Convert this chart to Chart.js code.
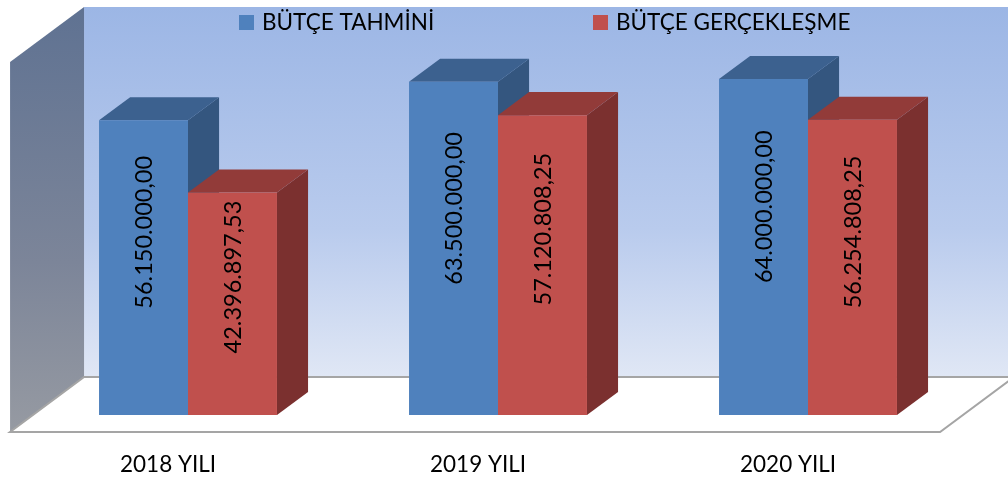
<!DOCTYPE html>
<html>
<head>
<meta charset="utf-8">
<script src="https://cdn.jsdelivr.net/npm/chart.js@4.4.1/dist/chart.umd.min.js"></script>
<style>
  html, body { margin: 0; padding: 0; background: #ffffff; overflow: hidden; }
  #wrap { width: 1008px; height: 479px; position: relative; }
  #c { display: block; }
</style>
</head>
<body>
<div id="wrap"><canvas id="c"></canvas></div>
<script>
const categories = ['2018 YILI', '2019 YILI', '2020 YILI'];
const seriesNames = ['BÜTÇE TAHMİNİ', 'BÜTÇE GERÇEKLEŞME'];
const butceTahmini = [56150000.00, 63500000.00, 64000000.00];
const butceGerceklesme = [42396897.53, 57120808.25, 56254808.25];
const yMax = 70500000;

const FONT = 'Lato, "Open Sans", sans-serif';
const FRONT = { blue: '#4f81bd', red: '#c0504d' };
const TOP = { blue: '#3c618f', red: '#923b39' };
const SIDE = { blue: '#34567f', red: '#7b302f' };

// 3D projection constants (full depth of the floor)
const DEPTH_X = 74, DEPTH_Y = -55;
const T_FRONT = 0.31, T_BACK = 0.73;

function proj(x, y, t) {
  return [x + (t - T_FRONT) * DEPTH_X, y + (t - T_FRONT) * DEPTH_Y];
}
function poly(ctx, pts, fill, stroke, lw) {
  ctx.beginPath();
  ctx.moveTo(pts[0][0], pts[0][1]);
  for (let i = 1; i < pts.length; i++) ctx.lineTo(pts[i][0], pts[i][1]);
  ctx.closePath();
  if (fill) { ctx.fillStyle = fill; ctx.fill(); }
  if (stroke) { ctx.strokeStyle = stroke; ctx.lineWidth = lw || 1; ctx.stroke(); }
}
function fmtTR(v) {
  const fixed = v.toFixed(2);
  const [ip, dp] = fixed.split('.');
  return ip.replace(/\B(?=(\d{3})+(?!\d))/g, '.') + ',' + dp;
}

const threeD = {
  id: 'threeD',
  beforeDraw(chart) {
    const { ctx, chartArea: a } = chart;
    ctx.save();
    ctx.fillStyle = '#ffffff';
    ctx.fillRect(0, 0, chart.width, chart.height);
    // back wall
    const bw = [proj(a.left, a.top, 1), proj(a.right, a.top, 1), proj(a.right, a.bottom, 1), proj(a.left, a.bottom, 1)];
    let g = ctx.createLinearGradient(0, bw[0][1], 0, bw[2][1]);
    g.addColorStop(0, '#9cb6e5');
    g.addColorStop(0.6, '#b9cbed');
    g.addColorStop(1, '#e0e7f5');
    poly(ctx, bw, g);
    // left wall
    const lw = [proj(a.left, a.top, 0), proj(a.left, a.top, 1), proj(a.left, a.bottom, 1), proj(a.left, a.bottom, 0)];
    g = ctx.createLinearGradient(0, lw[1][1], 0, lw[3][1]);
    g.addColorStop(0, '#5f7292');
    g.addColorStop(0.6, '#7c8599');
    g.addColorStop(1, '#969aa2');
    poly(ctx, lw, g);
    // floor
    const fl = [proj(a.left, a.bottom, 0), proj(a.right, a.bottom, 0), proj(a.right, a.bottom, 1), proj(a.left, a.bottom, 1)];
    poly(ctx, fl, '#ffffff', '#a5a5a5', 2);
    ctx.restore();
  },
  beforeDatasetsDraw(chart) {
    const { ctx } = chart;
    const dx = (T_BACK - T_FRONT) * DEPTH_X, dy = (T_BACK - T_FRONT) * DEPTH_Y;
    ctx.save();
    chart.data.datasets.forEach((ds, di) => {
      const key = di === 0 ? 'blue' : 'red';
      chart.getDatasetMeta(di).data.forEach(bar => {
        const x0 = bar.x - bar.width / 2, x1 = bar.x + bar.width / 2;
        const yt = bar.y, yb = bar.base;
        poly(ctx, [[x1, yt], [x1 + dx, yt + dy], [x1 + dx, yb + dy], [x1, yb]], SIDE[key]);
        poly(ctx, [[x0, yt], [x1, yt], [x1 + dx, yt + dy], [x0 + dx, yt + dy]], TOP[key]);
      });
    });
    ctx.restore();
  },
  afterDatasetsDraw(chart) {
    const { ctx, chartArea: a } = chart;
    ctx.save();
    ctx.fillStyle = '#000000';
    ctx.font = '23.5px ' + FONT;
    ctx.textAlign = 'center';
    ctx.textBaseline = 'middle';
    chart.data.datasets.forEach((ds, di) => {
      chart.getDatasetMeta(di).data.forEach((bar, i) => {
        const h = bar.base - bar.y;
        const yc = bar.y + h * 0.38;
        ctx.save();
        ctx.translate(bar.x, yc);
        ctx.rotate(-Math.PI / 2);
        ctx.fillText(fmtTR(ds.data[i]), 0, 1);
        ctx.restore();
      });
    });
    // category labels, placed below the front edge of the floor
    const xs = chart.scales.x;
    ctx.font = '22.5px ' + FONT;
    xs.ticks.forEach((tk, i) => {
      const p = proj(xs.getPixelForTick(i), a.bottom, 0);
      ctx.fillText(xs.getLabelForValue(tk.value), p[0] + 3, p[1] + 33);
    });
    // legend
    ctx.textAlign = 'left';
    const items = [{ x: 239, c: FRONT.blue }, { x: 593, c: FRONT.red }];
    items.forEach((it, k) => {
      ctx.fillStyle = it.c;
      ctx.fillRect(it.x, 15, 15, 15);
      ctx.fillStyle = '#000000';
      ctx.fillText(seriesNames[k], it.x + 23, 23);
    });
    ctx.restore();
  }
};

new Chart(document.getElementById('c'), {
  type: 'bar',
  data: {
    labels: categories,
    datasets: [
      { label: seriesNames[0], data: butceTahmini, backgroundColor: FRONT.blue, borderWidth: 0 },
      { label: seriesNames[1], data: butceGerceklesme, backgroundColor: FRONT.red, borderWidth: 0 }
    ]
  },
  options: {
    responsive: true,
    maintainAspectRatio: false,
    animation: false,
    layout: { padding: { left: 33, right: 45, top: 45, bottom: 64 } },
    datasets: { bar: { categoryPercentage: 0.574, barPercentage: 1.0 } },
    plugins: { legend: { display: false }, tooltip: { enabled: false } },
    scales: {
      x: {
        grid: { display: false, drawTicks: false },
        border: { display: false },
        ticks: { display: false }
      },
      y: { display: false, min: 0, max: yMax }
    }
  },
  plugins: [threeD]
});
</script>
</body>
</html>
